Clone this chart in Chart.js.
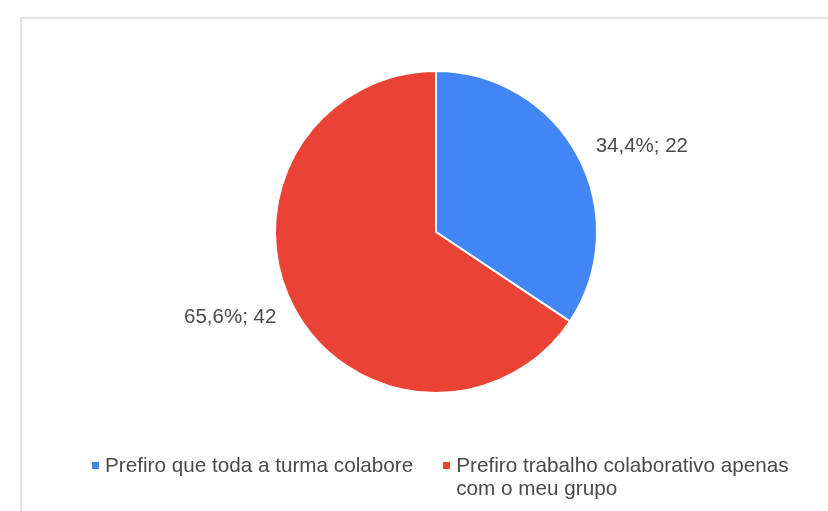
<!DOCTYPE html>
<html>
<head>
<meta charset="utf-8">
<script src="https://cdn.jsdelivr.net/npm/chart.js@4"></script>
<style>
  html, body { margin: 0; padding: 0; background: #fff; }
  body { width: 828px; height: 511px; position: relative; overflow: hidden; }
  .moldura {
    position: absolute; left: 20px; top: 17px; right: 0; bottom: 0;
    border-top: 2px solid #e4e4e4; border-left: 2px solid #e4e4e4;
  }
  #grafico { position: absolute; left: 0; top: 0; }
  #legenda {
    position: absolute; left: 92px; top: 453px;
    display: flex; gap: 30px;
    font-family: "Liberation Sans", Arial, sans-serif;
    font-size: 20.7px; line-height: 23px; color: #4a4a4a;
  }
  .item { display: flex; align-items: flex-start; }
  .quadrado { width: 7px; height: 7px; margin-top: 9px; margin-right: 6px; flex: none; }
  .texto { max-width: 345px; }
</style>
</head>
<body>
<div class="moldura"></div>
<canvas id="grafico" width="828" height="511"></canvas>
<div id="legenda"></div>
<script>
  // Dados do gráfico
  const categorias = [
    'Prefiro que toda a turma colabore',
    'Prefiro trabalho colaborativo apenas com o meu grupo'
  ];
  const respostas = [22, 42];
  const cores = ['#4285F4', '#EA4335'];

  const total = respostas.reduce((a, b) => a + b, 0);

  // Rótulos "percentual; valor" fora das fatias
  const rotulosFatias = {
    id: 'rotulosFatias',
    afterDatasetsDraw(chart) {
      const ctx = chart.ctx;
      const meta = chart.getDatasetMeta(0);
      ctx.save();
      ctx.font = '20.5px "Liberation Sans", Arial, sans-serif';
      ctx.fillStyle = '#4a4a4a';
      ctx.textBaseline = 'middle';
      meta.data.forEach((arco, i) => {
        const p = arco.getProps(['x', 'y', 'startAngle', 'endAngle', 'outerRadius'], true);
        const meio = (p.startAngle + p.endAngle) / 2;
        const r = p.outerRadius + 20;
        const x = p.x + Math.cos(meio) * r;
        const y = p.y + Math.sin(meio) * r;
        const pct = (respostas[i] / total * 100).toFixed(1).replace('.', ',');
        ctx.textAlign = x >= p.x ? 'left' : 'right';
        ctx.fillText(pct + '%; ' + respostas[i], x, y);
      });
      ctx.restore();
    }
  };

  const ctx = document.getElementById('grafico').getContext('2d');
  const grafico = new Chart(ctx, {
    type: 'pie',
    data: {
      labels: categorias,
      datasets: [{
        data: respostas,
        backgroundColor: cores,
        borderColor: '#ffffff',
        borderWidth: 2
      }]
    },
    options: {
      responsive: false,
      animation: false,
      events: [],
      layout: { padding: { top: 70, bottom: 117, left: 274, right: 230 } },
      plugins: {
        legend: { display: false },
        tooltip: { enabled: false }
      }
    },
    plugins: [rotulosFatias]
  });

  // Legenda em HTML (permite quebra de linha no segundo item)
  const legenda = document.getElementById('legenda');
  categorias.forEach((nome, i) => {
    legenda.innerHTML += `
      <div class="item">
        <div class="quadrado" style="background:${cores[i]}"></div>
        <div class="texto">${nome}</div>
      </div>`;
  });
</script>
</body>
</html>
